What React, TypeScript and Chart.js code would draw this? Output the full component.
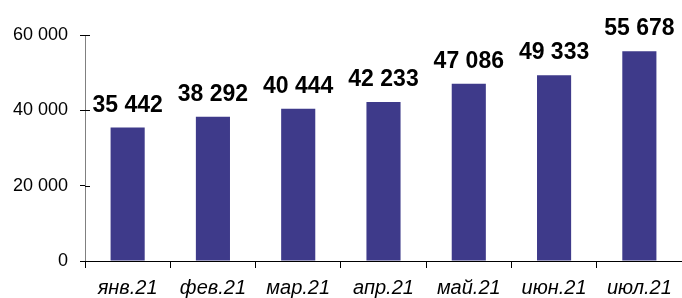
import React, { useEffect, useRef } from "react";
import { Chart, registerables } from "chart.js";

Chart.register(...registerables);

const categories = ["янв.21", "фев.21", "мар.21", "апр.21", "май.21", "июн.21", "июл.21"];
const values = [35442, 38292, 40444, 42233, 47086, 49333, 55678];
const yTicks = [0, 20000, 40000, 60000];

const fmt = (v: number) => String(v).replace(/\B(?=(\d{3})+(?!\d))/g, " ");

const FONT = "'Liberation Sans', Arial, sans-serif";

const labelPlugin = {
  id: "barLabels",
  afterDatasetsDraw(chart: any) {
    const ctx = chart.ctx;
    const meta = chart.getDatasetMeta(0);
    ctx.save();
    ctx.font = `bold 23px ${FONT}`;
    ctx.fillStyle = "#000";
    ctx.textAlign = "center";
    ctx.textBaseline = "alphabetic";
    meta.data.forEach((bar: any, i: number) => {
      ctx.fillText(fmt(values[i]), bar.x, bar.y - 16);
    });
    ctx.restore();
  },
};

const innerTickPlugin = {
  id: "innerTicks",
  afterDraw(chart: any) {
    const ctx = chart.ctx;
    const ys = chart.scales.y;
    const x0 = chart.chartArea.left;
    ctx.save();
    ctx.strokeStyle = "#000";
    ctx.lineWidth = 1;
    yTicks.forEach((t) => {
      const y = Math.round(ys.getPixelForValue(t)) + 0.5;
      ctx.beginPath();
      ctx.moveTo(x0, y);
      ctx.lineTo(x0 + 5, y);
      ctx.stroke();
    });
    ctx.restore();
  },
};

export default function App() {
  const ref = useRef<HTMLCanvasElement>(null);
  useEffect(() => {
    document.body.style.margin = "0";
    document.body.style.overflow = "hidden";
    if (!ref.current) return;
    const chart = new Chart(ref.current, {
      type: "bar",
      data: {
        labels: categories,
        datasets: [
          {
            data: values,
            backgroundColor: "#3E3A8A",
            borderWidth: 0,
            barPercentage: 0.4,
            categoryPercentage: 1,
          },
        ],
      },
      options: {
        responsive: false,
        animation: false,
        layout: { padding: { top: 35, right: 0, left: 0, bottom: 0 } },
        plugins: { legend: { display: false }, tooltip: { enabled: false } },
        scales: {
          x: {
            grid: { drawOnChartArea: false, drawTicks: true, tickLength: 7, color: "#000", offset: true },
            border: { color: "#000", width: 1 },
            ticks: {
              color: "#000",
              padding: 8,
              maxRotation: 0,
              autoSkip: false,
              font: { family: FONT, size: 20, style: "italic" },
            },
            afterFit: (s: any) => {
              s.height = 37;
            },
          },
          y: {
            min: 0,
            max: 60000,
            afterBuildTicks: (s: any) => {
              s.ticks = yTicks.map((v) => ({ value: v }));
            },
            grid: { drawOnChartArea: false, drawTicks: true, tickLength: 5, color: "#000" },
            border: { color: "#808080", width: 1 },
            ticks: {
              color: "#000",
              padding: 12,
              font: { family: FONT, size: 18 },
              callback: (v: any) => fmt(Number(v)),
            },
            afterFit: (s: any) => {
              s.width = 85;
            },
          },
        },
      },
      plugins: [labelPlugin, innerTickPlugin],
    });
    return () => chart.destroy();
  }, []);
  return <canvas ref={ref} width={682} height={298} style={{ display: "block" }} />;
}
